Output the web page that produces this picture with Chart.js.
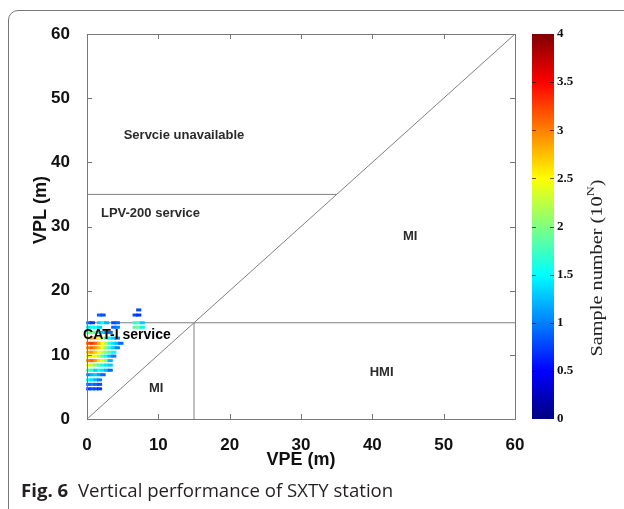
<!DOCTYPE html>
<html>
<head>
<meta charset="utf-8">
<script src="https://cdn.jsdelivr.net/npm/chart.js@4.4.1/dist/chart.umd.min.js"></script>
<style>
  html, body { margin: 0; padding: 0; background: #fff; }
  body { width: 624px; height: 509px; position: relative; overflow: hidden; }
  #frame { position: absolute; left: 8px; top: 10px; width: 700px; height: 600px;
           border: 1.5px solid #777; border-radius: 10px; }
  #wrap { position: absolute; left: 0; top: 0; width: 624px; height: 509px; }
  #caption { position: absolute; left: 21px; top: 477px; font-family: "Open Sans", sans-serif;
             font-size: 18.6px; color: #231f20; white-space: nowrap; }
  #caption b { font-weight: 700; margin-right: 5px; }
</style>
</head>
<body>
<div id="frame"></div>
<div id="wrap"><canvas id="chart" width="624" height="509"></canvas></div>
<div id="caption"><b>Fig. 6</b> Vertical performance of SXTY station</div>
<script>
// axis ticks
const axisTicks = [0, 10, 20, 30, 40, 50, 60];
const colorTicks = [0, 0.5, 1, 1.5, 2, 2.5, 3, 3.5, 4];

// VPL level of each occupied row (m)
const vplRows = [17, 16.2, 15, 14.3, 13.5, 12.6, 11.8, 11.1, 10.4, 9.8, 9.1, 8.4, 7.6, 6.9, 6.1, 5.4, 4.7];
// VPE bin centres (m)
const vpeBins = [0.25, 0.75, 1.25, 1.75, 2.25, 2.75, 3.25, 3.75, 4.25, 4.75, 5.25, 5.75, 6.25, 6.75, 7.25, 7.75];
// log10 of sample number per row / VPE bin (null = no samples)
const sampleLog = [
    [null, null, null, null, null, null, null, null, null, null, null, null, null, null, 0.8],
    [null, null, null, 0.9, 0.8, null, null, null, null, null, null, null, null, 0.8, 0.7],
    [0.9, 0.7, null, 1.3, 1.5, 1.2, null, 0.8, 0.9, null, null, null, null, 1.6, 1.8, 1.3],
    [1.4, 1.6, 1.5, 1.3, null, null, null, 0.9, 1.0, null, null, null, null, 1.8, 2.0, 1.5],
    [1.9, 2.0, 1.8, 1.5, 1.3, 1.1, 0.9],
    [2.6, 2.8, 2.7, 2.5, 2.3, 1.8, 1.5, 1.3, 1.0],
    [3.2, 3.3, 3.1, 2.8, 2.5, 2.2, 1.6, 1.4, 1.2, 0.9],
    [3.0, 3.1, 2.9, 2.7, 2.4, 2.0, 1.6, 1.3, 1.0],
    [2.8, 2.9, 2.7, 2.5, 2.3, 2.0, 1.8, 1.5],
    [2.6, 2.5, 2.4, 2.2, 1.8, 1.5, 1.2, 1.0],
    [3.0, 3.1, 2.9, 2.6, 2.4, 2.0, 1.2],
    [2.4, 2.2, 2.0, 1.8, 1.6, 1.4, 1.3],
    [1.8, 1.6, 1.3, 1.5, 1.4, 1.2, 0.9],
    [1.0, 1.2, 1.3, 1.1, 0.9],
    [1.5, 1.4, 1.2, 1.0],
    [0.9, 1.0, 0.9, 0.8],
    [0.7, 0.8, 0.8, 0.7]
];

// region boundaries (m)
const diagonalLine = [{ x: 0, y: 0 }, { x: 60, y: 60 }];
const lpvLimit = [{ x: 0, y: 35 }, { x: 35, y: 35 }];
const catLimit = [{ x: 0, y: 15 }, { x: 60, y: 15 }];
const vpeLimit = [{ x: 15, y: 0 }, { x: 15, y: 15 }];

// region names, placed in data units
const regionLabels = [
    { text: 'Servcie unavailable', x: 13.6, y: 44.2, size: 13 },
    { text: 'LPV-200 service', x: 8.9, y: 32.1, size: 13 },
    { text: 'MI', x: 45.3, y: 28.5, size: 13 },
    { text: 'CAT-I service', x: 5.6, y: 13.1, size: 14, color: '#000' },
    { text: 'MI', x: 9.7, y: 4.7, size: 13 },
    { text: 'HMI', x: 41.3, y: 7.2, size: 13 }
];

/**
 * MATLAB jet colormap, t in [0, 1]
 */
function jet(t) {
    t = Math.min(1, Math.max(0, t));
    const c = v => Math.round(255 * Math.min(1, Math.max(0, v)));
    return `rgb(${c(1.5 - Math.abs(4 * t - 3))},${c(1.5 - Math.abs(4 * t - 2))},${c(1.5 - Math.abs(4 * t - 1))})`;
}

const cloud = [];
const cloudColors = [];
vplRows.forEach((vpl, r) => {
    sampleLog[r].forEach((v, i) => {
        if (v == null) return;
        cloud.push({ x: vpeBins[i], y: vpl });
        cloudColors.push(jet(v / 4));
    });
});

const boundary = data => ({
    data: data,
    showLine: true,
    borderColor: '#808080',
    borderWidth: 1,
    pointRadius: 0
});

const noPad = s => { s.paddingTop = 0; s.paddingBottom = 0; s.paddingLeft = 0; s.paddingRight = 0; };

const decorations = {
    id: 'decorations',
    afterDatasetsDraw(chart) {
        const { ctx, chartArea: a, scales } = chart;
        const sx = scales.x, sy = scales.y, sc = scales.yColor;
        ctx.save();

        // plot box with inward ticks
        ctx.strokeStyle = '#777';
        ctx.lineWidth = 1;
        ctx.strokeRect(a.left + 0.5, a.top + 0.5, a.right - a.left, a.bottom - a.top);
        ctx.beginPath();
        axisTicks.slice(1, -1).forEach(v => {
            const px = Math.round(sx.getPixelForValue(v)) + 0.5;
            ctx.moveTo(px, a.bottom); ctx.lineTo(px, a.bottom - 5);
            ctx.moveTo(px, a.top); ctx.lineTo(px, a.top + 5);
            const py = Math.round(sy.getPixelForValue(v)) + 0.5;
            ctx.moveTo(a.left, py); ctx.lineTo(a.left + 5, py);
            ctx.moveTo(a.right, py); ctx.lineTo(a.right - 5, py);
        });
        ctx.stroke();

        // region names
        ctx.textAlign = 'center';
        ctx.textBaseline = 'middle';
        regionLabels.forEach(l => {
            ctx.font = `bold ${l.size}px "Liberation Sans", Arial, sans-serif`;
            ctx.fillStyle = l.color || '#2b2b2b';
            ctx.fillText(l.text, sx.getPixelForValue(l.x), sy.getPixelForValue(l.y));
        });

        // colour bar
        const barLeft = a.right + 17, barWidth = 22;
        const top = sc.getPixelForValue(4), bottom = sc.getPixelForValue(0);
        const grad = ctx.createLinearGradient(0, bottom, 0, top);
        for (let i = 0; i <= 32; i++) grad.addColorStop(i / 32, jet(i / 32));
        ctx.fillStyle = grad;
        ctx.fillRect(barLeft, top, barWidth, bottom - top);
        ctx.strokeStyle = 'rgba(0,0,0,0.6)';
        ctx.beginPath();
        colorTicks.slice(1, -1).forEach(v => {
            const py = Math.round(sc.getPixelForValue(v)) + 0.5;
            ctx.moveTo(barLeft + barWidth, py); ctx.lineTo(barLeft + barWidth - 4, py);
            ctx.moveTo(barLeft, py); ctx.lineTo(barLeft + 4, py);
        });
        ctx.stroke();

        // colour bar title
        ctx.fillStyle = '#222';
        ctx.translate(597, 268);
        ctx.rotate(-Math.PI / 2);
        const bodyFont = '16px "Liberation Serif", "Times New Roman", serif';
        const supFont = '11px "Liberation Serif", "Times New Roman", serif';
        const main = 'Sample number (10', tail = ')';
        ctx.font = bodyFont;
        const wMain = ctx.measureText(main).width, wTail = ctx.measureText(tail).width;
        ctx.font = supFont;
        const wSup = ctx.measureText('N').width;
        const total = wMain + wSup + wTail;
        ctx.scale(177 / total, 1);
        ctx.textAlign = 'left';
        ctx.textBaseline = 'alphabetic';
        let tx = -total / 2;
        ctx.font = bodyFont;
        ctx.fillText(main, tx, 5);
        tx += wMain;
        ctx.font = supFont;
        ctx.fillText('N', tx, -3);
        tx += wSup;
        ctx.font = bodyFont;
        ctx.fillText(tail, tx, 5);
        ctx.restore();

        // y axis title
        ctx.save();
        ctx.translate(41, 210);
        ctx.rotate(-Math.PI / 2);
        ctx.font = 'bold 18px "Liberation Sans", Arial, sans-serif';
        ctx.fillStyle = '#111';
        ctx.textAlign = 'center';
        ctx.textBaseline = 'middle';
        ctx.fillText('VPL (m)', 0, 0);
        ctx.restore();
    }
};

Chart.defaults.font.family = '"Liberation Sans", Arial, sans-serif';

new Chart(document.getElementById('chart'), {
    type: 'scatter',
    data: {
        datasets: [
            {
                data: cloud,
                pointStyle: 'line',
                pointRadius: 2.6,
                pointBorderWidth: 3,
                pointBackgroundColor: cloudColors,
                pointBorderColor: cloudColors,
                clip: false
            },
            boundary(diagonalLine),
            boundary(lpvLimit),
            boundary(catLimit),
            boundary(vpeLimit)
        ]
    },
    options: {
        responsive: false,
        animation: false,
        layout: { padding: { top: 34, right: 0, bottom: 30, left: 0 } },
        plugins: { legend: { display: false }, tooltip: { enabled: false } },
        scales: {
            x: {
                type: 'linear',
                min: 0,
                max: 60,
                grid: { display: false },
                border: { display: false },
                afterBuildTicks: s => { s.ticks = axisTicks.map(v => ({ value: v })); },
                afterFit: s => { s.height = 60; noPad(s); },
                ticks: { padding: 8, color: '#111', font: { size: 17, weight: 'bold' } },
                title: {
                    display: true,
                    text: 'VPE (m)',
                    color: '#111',
                    font: { size: 18, weight: 'bold' },
                    padding: { top: 0, bottom: 8 }
                }
            },
            y: {
                type: 'linear',
                min: 0,
                max: 60,
                grid: { display: false },
                border: { display: false },
                afterBuildTicks: s => { s.ticks = axisTicks.map(v => ({ value: v })); },
                afterFit: s => { s.width = 87; noPad(s); },
                ticks: { padding: 9, color: '#111', font: { size: 17, weight: 'bold' } }
            },
            yColor: {
                type: 'linear',
                position: 'right',
                min: 0,
                max: 4,
                grid: { display: false, drawTicks: false },
                border: { display: false },
                afterBuildTicks: s => { s.ticks = colorTicks.map(v => ({ value: v })); },
                afterFit: s => { s.width = 109; noPad(s); },
                ticks: {
                    padding: 42,
                    color: '#111',
                    callback: v => String(v),
                    font: { size: 13, weight: 'bold', family: '"Liberation Serif", "Times New Roman", serif' }
                }
            }
        }
    },
    plugins: [decorations]
});
</script>
</body>
</html>
